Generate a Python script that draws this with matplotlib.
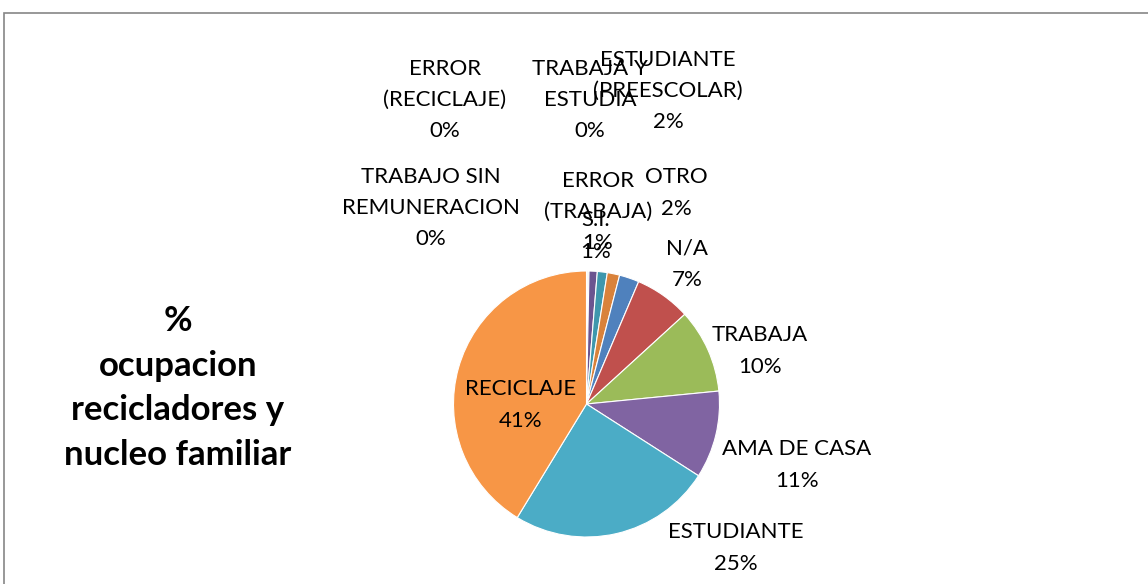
import matplotlib
matplotlib.use("Agg")
import matplotlib.pyplot as plt
from matplotlib.patches import Rectangle

# Data, in clockwise order starting at 12 o'clock
categories = ["TRABAJO SIN\nREMUNERACION", "ERROR\n(RECICLAJE)", "TRABAJA Y\nESTUDIA", "S.I.",
              "ERROR\n(TRABAJA)", "ESTUDIANTE\n(PREESCOLAR)", "OTRO", "N/A", "TRABAJA",
              "AMA DE CASA", "ESTUDIANTE", "RECICLAJE"]
values = [0.05, 0.1, 0.15, 1.0, 1.2, 1.5, 2.4, 6.8, 10.2, 10.6, 24.6, 41.2]
pct_labels = ["0%", "0%", "0%", "1%", "1%", "2%", "2%", "7%", "10%", "11%", "25%", "41%"]
title = "%\nocupacion\nrecicladores y\nnucleo familiar"

colors = ["#2C4D75", "#772C2A", "#7F9A48", "#6B5490", "#3E97AD", "#D9823B",
          "#4F81BD", "#C0504D", "#9BBB59", "#8064A2", "#4BACC6", "#F79646"]

# label centres in pixel coords (x, y from top)
label_pos = [(431, 208), (445, 100), (590, 100), (596, 236), (598, 212), (668, 91),
             (676, 193), (687, 264), (760, 351), (797, 465), (736, 548), (521, 405)]

W, H = 1148, 584
fig = plt.figure(figsize=(W / 100, H / 100), dpi=100)
ax = fig.add_axes([0, 0, 1, 1])
ax.set_xlim(0, W)
ax.set_ylim(0, H)
ax.set_aspect("equal")
ax.axis("off")

# chart frame
ax.add_patch(Rectangle((3.5, -50), W + 50, H - 12.5 + 50, fill=False,
                       edgecolor="#868686", linewidth=1.2))

cx, cy, r = 586.5, H - 404, 133
ax.pie(values, colors=colors, startangle=90, counterclock=False,
       center=(cx, cy), radius=r, frame=True,
       wedgeprops=dict(linewidth=0.8, edgecolor="white"))
ax.set_xlim(0, W)
ax.set_ylim(0, H)
ax.axis("off")

fam = ["Lato", "DejaVu Sans"]
for cat, pct, (x, y) in zip(categories, pct_labels, label_pos):
    ax.text(x, H - y, f"{cat}\n{pct}", ha="center", va="center", fontsize=16,
            family=fam, color="black", linespacing=1.7)

ax.text(178, H - 388, title, ha="center", va="center", fontsize=25,
        fontweight="bold", family=fam, linespacing=1.48)

fig.savefig("out.png", dpi=100)
